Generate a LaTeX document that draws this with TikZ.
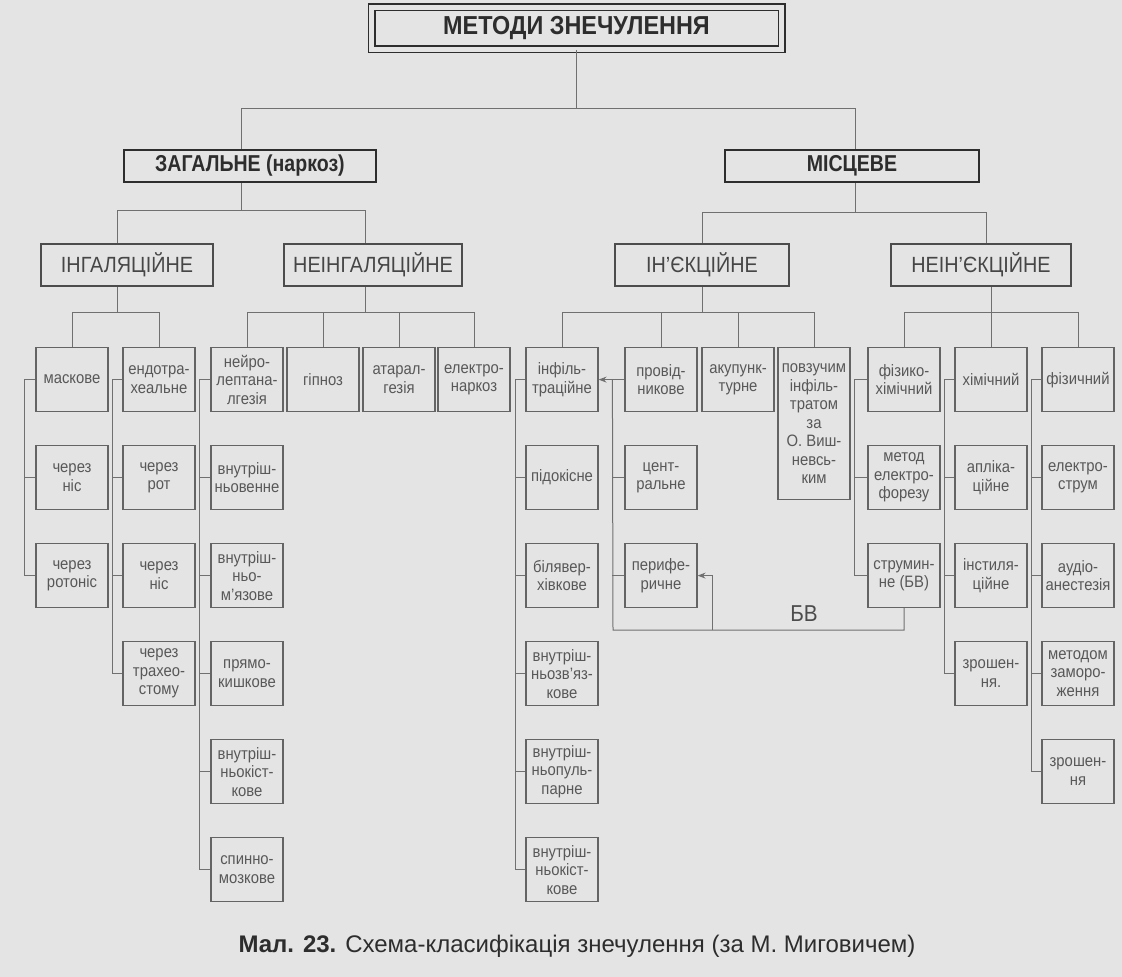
\documentclass[tikz,border=0pt]{standalone}
\usepackage{fontspec}
\setmainfont{Liberation Sans}
\newfontfamily\narrowf{Liberation Sans}[FakeStretch=0.9]
\newfontfamily\condf{Liberation Sans}[FakeStretch=0.85]
\usetikzlibrary{arrows.meta}
\definecolor{bg}{RGB}{228,228,228}
\definecolor{lnc}{RGB}{112,112,112}
\definecolor{bx}{RGB}{100,100,100}
\definecolor{tx}{RGB}{88,88,88}
\definecolor{dk}{RGB}{45,45,45}
\begin{document}
\begin{tikzpicture}[x=1pt,y=-1pt,
  sb/.style={draw=bx, line width=1.2pt, minimum width=72pt, minimum height=64pt, inner sep=1pt, align=center, anchor=north, text=tx, font=\narrowf\fontsize{16.5}{18.5}\selectfont},
  lvtwo/.style={draw=dk!85, line width=1.8pt, minimum height=42pt, inner sep=2pt, text=tx!80!black, font=\narrowf\fontsize{22}{26}\selectfont},
  lvone/.style={draw=dk, line width=2pt, minimum height=32pt, inner sep=2pt, font=\condf\bfseries\fontsize{23}{27}\selectfont, text=dk},
  cn/.style={draw=lnc, line width=1pt},
  ar/.style={cn, -{Stealth[length=8pt,width=6pt]}}
]
\fill[bg] (0,0) rectangle (1122,977);
\useasboundingbox (0,0) rectangle (1122,977);

% title
\node[draw=dk, line width=1.5pt, double=bg, double distance=5pt, minimum width=410pt, minimum height=42pt,
      font=\narrowf\bfseries\fontsize{26}{30}\selectfont, text=dk] (title) at (576.5,28) {МЕТОДИ ЗНЕЧУЛЕННЯ};

% level 1
\node[lvone, minimum width=252pt] (zag) at (250,166) {ЗАГАЛЬНЕ (наркоз)};
\node[lvone, minimum width=254pt] (mis) at (852,166) {МІСЦЕВЕ};

% level 2
\node[lvtwo, minimum width=172pt] (ing) at (127,265) {ІНГАЛЯЦІЙНЕ};
\node[lvtwo, minimum width=178pt] (ning) at (373,265) {НЕІНГАЛЯЦІЙНЕ};
\node[lvtwo, minimum width=174pt] (inj) at (702,265) {ІН’ЄКЦІЙНЕ};
\node[lvtwo, minimum width=180pt] (nein) at (981,265) {НЕІН’ЄКЦІЙНЕ};

% row 3
\node[sb] (c1r3) at (72,347) {маскове};
\node[sb] (c2r3) at (159,347) {ендотра-\\хеальне};
\node[sb] (c3r3) at (247,347) {нейро-\\лептана-\\лгезія};
\node[sb] (c4r3) at (323,347) {гіпноз};
\node[sb] (c5r3) at (399,347) {атарал-\\гезія};
\node[sb] (c6r3) at (474,347) {електро-\\наркоз};
\node[sb] (c7r3) at (562,347) {інфіль-\\траційне};
\node[sb] (c8r3) at (661,347) {провід-\\никове};
\node[sb] (c9r3) at (738,347) {акупунк-\\турне};
\node[sb, minimum height=152pt] (c10r3) at (814,347) {повзучим\\інфіль-\\тратом\\за\\О. Виш-\\невсь-\\ким};
\node[sb] (c11r3) at (904,347) {фізико-\\хімічний};
\node[sb] (c12r3) at (991,347) {хімічний};
\node[sb] (c13r3) at (1078,347) {фізичний};

% row 4
\node[sb] (c1r4) at (72,445) {через\\ніс};
\node[sb] (c2r4) at (159,445) {через\\рот};
\node[sb] (c3r4) at (247,445) {внутріш-\\ньовенне};
\node[sb] (c7r4) at (562,445) {підокісне};
\node[sb] (c8r4) at (661,445) {цент-\\ральне};
\node[sb] (c11r4) at (904,445) {метод\\електро-\\форезу};
\node[sb] (c12r4) at (991,445) {апліка-\\ційне};
\node[sb] (c13r4) at (1078,445) {електро-\\струм};

% row 5
\node[sb] (c1r5) at (72,543) {через\\ротоніс};
\node[sb] (c2r5) at (159,543) {через\\ніс};
\node[sb] (c3r5) at (247,543) {внутріш-\\ньо-\\м’язове};
\node[sb] (c7r5) at (562,543) {білявер-\\хівкове};
\node[sb] (c8r5) at (661,543) {перифе-\\ричне};
\node[sb] (c11r5) at (904,543) {струмин-\\не (БВ)};
\node[sb] (c12r5) at (991,543) {інстиля-\\ційне};
\node[sb] (c13r5) at (1078,543) {аудіо-\\анестезія};

% row 6
\node[sb] (c2r6) at (159,641) {через\\трахео-\\стому};
\node[sb] (c3r6) at (247,641) {прямо-\\кишкове};
\node[sb] (c7r6) at (562,641) {внутріш-\\ньозв’яз-\\кове};
\node[sb] (c12r6) at (991,641) {зрошен-\\ня.};
\node[sb] (c13r6) at (1078,641) {методом\\заморо-\\ження};

% row 7
\node[sb] (c3r7) at (247,739) {внутріш-\\ньокіст-\\кове};
\node[sb] (c7r7) at (562,739) {внутріш-\\ньопуль-\\парне};
\node[sb] (c13r7) at (1078,739) {зрошен-\\ня};

% row 8
\node[sb] (c3r8) at (247,837) {спинно-\\мозкове};
\node[sb] (c7r8) at (562,837) {внутріш-\\ньокіст-\\кове};

% labels
\node[font=\narrowf\fontsize{23}{26}\selectfont, text=dk!85] (bv) at (804,614) {БВ};
\node[font=\fontsize{24}{28}\selectfont, text=dk] (cap) at (577,946) {\textbf{Мал. 23.} Схема-класифікація знечулення (за М. Миговичем)};

% tree: title -> level 1
\coordinate (t0) at (576.5,108);
\coordinate (tL) at (241,108);
\coordinate (tR) at (855,108);
\draw[cn] (title.south) -- (t0);
\draw[cn] (tL) -- (tR);
\draw[cn] (tL) -- (tL |- zag.north);
\draw[cn] (tR) -- (tR |- mis.north);

% level 1 -> level 2
\coordinate (zC) at (241,210);
\coordinate (zL) at (117,210);
\coordinate (zR) at (365,210);
\draw[cn] (zag.south -| zC) -- (zC);
\draw[cn] (zL) -- (zR);
\draw[cn] (zL) -- (zL |- ing.north);
\draw[cn] (zR) -- (zR |- ning.north);
\coordinate (mC) at (855,212);
\coordinate (mL) at (702,212);
\coordinate (mR) at (986,212);
\draw[cn] (mis.south -| mC) -- (mC);
\draw[cn] (mL) -- (mR);
\draw[cn] (mL) -- (mL |- inj.north);
\draw[cn] (mR) -- (mR |- nein.north);

% level 2 -> row 3
\coordinate (iC) at (117,312);
\draw[cn] (ing.south -| iC) -- (iC);
\draw[cn] (c1r3.north) -- ++(0,-35) -| (c2r3.north);
\coordinate (nC) at (365,312);
\draw[cn] (ning.south -| nC) -- (nC);
\draw[cn] (c3r3.north) -- ++(0,-35) -| (c6r3.north);
\draw[cn] (c4r3.north) -- ++(0,-35);
\draw[cn] (c5r3.north) -- ++(0,-35);
\coordinate (jC) at (702,312);
\draw[cn] (inj.south -| jC) -- (jC);
\draw[cn] (c7r3.north) -- ++(0,-35) -| (c10r3.north);
\draw[cn] (c8r3.north) -- ++(0,-35);
\draw[cn] (c9r3.north) -- ++(0,-35);
\draw[cn] (c11r3.north) -- ++(0,-35) -| (c13r3.north);
\draw[cn] (nein.south -| c12r3.north) -- (c12r3.north);

% column brackets
\draw[cn] (c1r3.west) -- ++(-11,0) |- (c1r5.west);
\draw[cn] (c1r4.west) -- ++(-11,0);
\draw[cn] (c2r3.west) -- ++(-10,0) |- (c2r6.west);
\draw[cn] (c2r4.west) -- ++(-10,0);
\draw[cn] (c2r5.west) -- ++(-10,0);
\draw[cn] (c3r3.west) -- ++(-11,0) |- (c3r8.west);
\draw[cn] (c3r4.west) -- ++(-11,0);
\draw[cn] (c3r5.west) -- ++(-11,0);
\draw[cn] (c3r6.west) -- ++(-11,0);
\draw[cn] (c3r7.west) -- ++(-11,0);
\draw[cn] (c7r3.west) -- ++(-10,0) |- (c7r8.west);
\draw[cn] (c7r4.west) -- ++(-10,0);
\draw[cn] (c7r5.west) -- ++(-10,0);
\draw[cn] (c7r6.west) -- ++(-10,0);
\draw[cn] (c7r7.west) -- ++(-10,0);
\draw[cn] (c11r3.west) -- ++(-13,0) |- (c11r5.west);
\draw[cn] (c11r4.west) -- ++(-13,0);
\draw[cn] (c12r3.west) -- ++(-10,0) |- (c12r6.west);
\draw[cn] (c12r4.west) -- ++(-10,0);
\draw[cn] (c12r5.west) -- ++(-10,0);
\draw[cn] (c13r3.west) -- ++(-10,0) |- (c13r7.west);
\draw[cn] (c13r4.west) -- ++(-10,0);
\draw[cn] (c13r5.west) -- ++(-10,0);
\draw[cn] (c13r6.west) -- ++(-10,0);

% providnykove column and BV loop
\coordinate (pv) at ([xshift=-12pt]c8r3.west);
\coordinate (bvL) at (613,630);
\coordinate (bvM) at (712,630);
\draw[ar] (c8r3.west) -- (c7r3.east);
\draw[cn] (c11r5.south) |- (bvL) -- (pv);
\draw[cn] (c8r4.west) -- ++(-12,0);
\draw[cn] (c8r5.west) -- ++(-12,0);
\draw[ar] (bvM) |- (c8r5.east);
\end{tikzpicture}
\end{document}
